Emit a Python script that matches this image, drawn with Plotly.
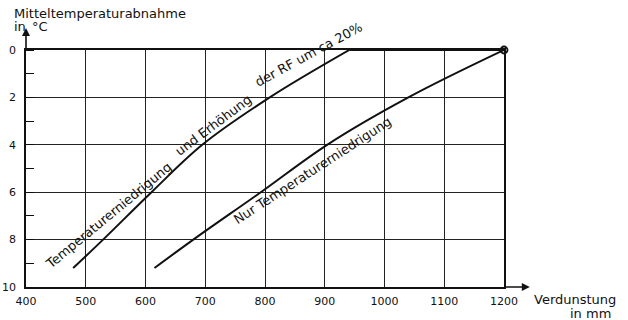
import plotly.graph_objects as go

# ---- data ----
x_ticks = [400, 500, 600, 700, 800, 900, 1000, 1100, 1200]
y_ticks = [0, 2, 4, 6, 8, 10]

# Temperaturerniedrigung und Erhöhung der RF um ca 20%
rf_x = [479, 529, 610, 695, 808, 941, 1200]
rf_y = [9.2, 8, 6, 4, 2, 0, 0]

# Nur Temperaturerniedrigung
nur_x = [615, 680, 793, 904, 1040, 1200]
nur_y = [9.2, 8, 6, 4, 2, 0]

# common end point
end_x = [1200]
end_y = [0]

FONT = "DejaVu Sans"
INK = "#111111"

fig = go.Figure()

# curve 1: curved part + flat part along 0
k = rf_y.index(0)
fig.add_trace(go.Scatter(x=rf_x[:k + 1], y=rf_y[:k + 1], mode="lines",
                         line=dict(color=INK, width=2, shape="spline", smoothing=1.0),
                         hoverinfo="skip", showlegend=False, cliponaxis=False))
fig.add_trace(go.Scatter(x=rf_x[k:], y=rf_y[k:], mode="lines",
                         line=dict(color=INK, width=2),
                         hoverinfo="skip", showlegend=False, cliponaxis=False))
# curve 2
fig.add_trace(go.Scatter(x=nur_x, y=nur_y, mode="lines",
                         line=dict(color=INK, width=2, shape="spline", smoothing=1.0),
                         hoverinfo="skip", showlegend=False, cliponaxis=False))
# end marker
fig.add_trace(go.Scatter(x=end_x, y=end_y, mode="markers",
                         marker=dict(symbol="circle-open", size=7, color=INK,
                                     line=dict(width=1.8, color=INK)),
                         hoverinfo="skip", showlegend=False, cliponaxis=False))

fig.update_xaxes(range=[400, 1200], tickvals=x_ticks, ticktext=[str(v) for v in x_ticks],
                 showgrid=True, gridcolor="#222222", gridwidth=1,
                 showline=True, linecolor=INK, linewidth=1.6, mirror=True,
                 ticks="", ticklabelstandoff=3, zeroline=False, automargin=False,
                 tickfont=dict(family=FONT, size=11, color=INK))
fig.update_yaxes(range=[10, 0], tickvals=y_ticks, ticktext=[str(v) for v in y_ticks],
                 showgrid=True, gridcolor="#222222", gridwidth=1,
                 showline=True, linecolor=INK, linewidth=1.6, mirror=True,
                 ticks="", ticklabelstandoff=6, zeroline=False, automargin=False,
                 tickfont=dict(family=FONT, size=11, color=INK),
                 minor=dict(dtick=1, tick0=0, ticks="inside", ticklen=8,
                            tickwidth=1.2, tickcolor=INK, showgrid=False))

ann = []
# axis arrows
ann.append(dict(xref="paper", yref="paper", x=1.054, y=0, ax=-27, ay=0,
                showarrow=True, arrowhead=2, arrowsize=1, arrowwidth=1.6,
                arrowcolor=INK, text=""))
ann.append(dict(xref="paper", yref="paper", x=0, y=1.093, ax=0, ay=23,
                showarrow=True, arrowhead=2, arrowsize=1, arrowwidth=1.6,
                arrowcolor=INK, text=""))
# axis titles
title_font = dict(family=FONT, size=13, color=INK)
ann.append(dict(xref="paper", yref="paper", x=-0.029, y=1.155, xanchor="left",
                yanchor="middle", showarrow=False, text="Mitteltemperaturabnahme",
                font=title_font))
ann.append(dict(xref="paper", yref="paper", x=-0.029, y=1.101, xanchor="left",
                yanchor="middle", showarrow=False, text="in", font=title_font))
ann.append(dict(xref="paper", yref="paper", x=0.008, y=1.101, xanchor="left",
                yanchor="middle", showarrow=False, text="°C", font=title_font))
ann.append(dict(xref="paper", yref="paper", x=1.058, y=-0.053, xanchor="left",
                yanchor="middle", showarrow=False, text="Verdunstung",
                font=title_font))
ann.append(dict(xref="paper", yref="paper", x=1.134, y=-0.112, xanchor="left",
                yanchor="middle", showarrow=False, text="in mm",
                font=title_font))
# curve labels (text following the curves, split into word groups)
lab_font = dict(family=FONT, size=13, color=INK)
ann.append(dict(x=538, y=6.97, text="Temperaturerniedrigung", textangle=-39.5,
                showarrow=False, xanchor="center", yanchor="middle", font=lab_font))
ann.append(dict(x=713, y=3.2, text="und Erhöhung", textangle=-37,
                showarrow=False, xanchor="center", yanchor="middle", font=lab_font))
ann.append(dict(x=873, y=0.20, text="der RF um ca 20%", textangle=-28.5,
                showarrow=False, xanchor="center", yanchor="middle", font=lab_font))
ann.append(dict(x=879, y=5.08, text="Nur Temperaturerniedrigung", textangle=-33,
                showarrow=False, xanchor="center", yanchor="middle", font=lab_font))

fig.update_layout(template="none", width=628, height=320,
                  margin=dict(l=26, r=124, t=50, b=33, autoexpand=False),
                  paper_bgcolor="white", plot_bgcolor="white",
                  annotations=ann, showlegend=False,
                  font=dict(family=FONT, color=INK))

fig.write_html("out.html", config={"displayModeBar": False},
               post_script="document.body.style.margin='0';document.body.style.overflow='hidden';")
